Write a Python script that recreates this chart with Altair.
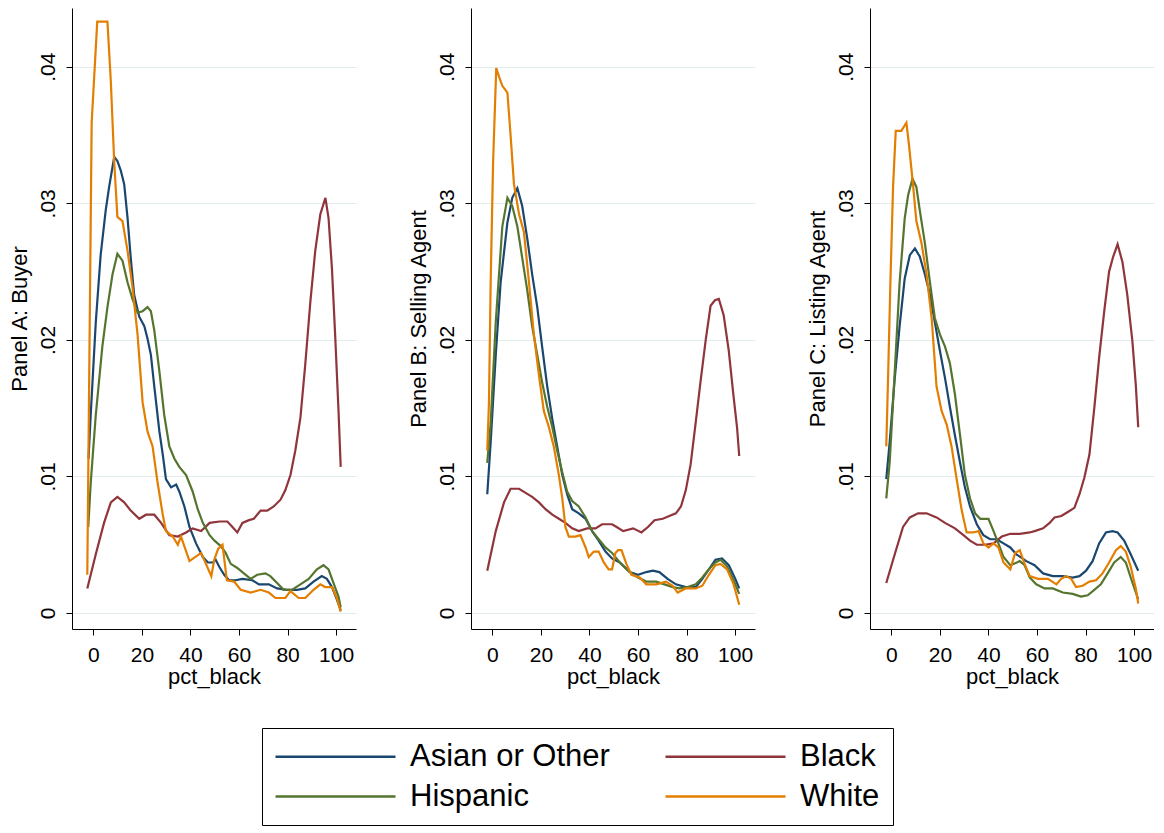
import altair as alt
import pandas as pd

GROUPS = ["Asian or Other", "Black", "Hispanic", "White"]
COLORS = ["#1a476f", "#90353b", "#55752f", "#e37e00"]
PANELS = ["A", "B", "C"]
PANEL_TITLES = ["Panel A: Buyer", "Panel B: Selling Agent", "Panel C: Listing Agent"]
X_TICKS = [0, 20, 40, 60, 80, 100]
Y_TICKS = [0, 0.01, 0.02, 0.03, 0.04]

# (pct_black, density)
A_ASIAN = [(-2.0,.0113),(-1.1,.0145),(1.0,.0213),(3.0,.0262),(5.1,.0295),(6.5,.0312),(8.6,.0334),(9.9,.0331),(11.3,.0324),(12.7,.0314),(14.1,.0289),(15.4,.0260),(16.8,.0233),(18.9,.0217),(21.0,.0210),(22.3,.0201),(23.7,.0189),(25.1,.0166),(27.2,.0133),(28.6,.0116),(29.9,.0098),(32.0,.0092),(34.1,.0094),(35.4,.0089),(37.5,.0078),(39.6,.0063),(42.3,.0051),(45.1,.0041),(47.2,.0037),(49.2,.0037),(50.4,.0039),(51.8,.0034),(53.9,.0028),(55.9,.0024),(58.6,.0024),(61.4,.0025),(65.5,.0024),(68.2,.0021),(72.3,.0021),(75.7,.0018),(79.8,.0017),(83.9,.0017),(87.3,.0018),(90.7,.0023),(94.1,.0027),(96.2,.0025),(98.3,.0019),(100.3,.0010),(101.9,.0002)]
A_BLACK = [(-2.5,.0018),(1.0,.0043),(4.4,.0066),(7.2,.0081),(9.9,.0085),(12.7,.0081),(15.4,.0075),(18.9,.0069),(21.7,.0072),(25.1,.0072),(27.9,.0066),(31.3,.0057),(34.8,.0056),(38.2,.0059),(40.9,.0062),(44.4,.0060),(47.9,.0066),(52.0,.0067),(55.2,.0067),(57.3,.0063),(59.3,.0059),(61.4,.0066),(64.1,.0068),(66.1,.0069),(68.9,.0075),(71.6,.0075),(74.3,.0078),(77.1,.0083),(79.1,.0090),(81.2,.0101),(83.2,.0119),(85.3,.0143),(87.3,.0182),(89.4,.0228),(91.4,.0265),(93.5,.0292),(95.6,.0304),(96.9,.0289),(98.3,.0252),(99.6,.0204),(101.0,.0148),(101.9,.0107)]
A_HISP = [(-2.1,.0063),(-1.1,.0095),(1.0,.0145),(3.7,.0195),(5.8,.0224),(7.9,.0248),(9.9,.0263),(12.0,.0258),(14.1,.0242),(16.1,.0230),(18.2,.0220),(20.3,.0221),(22.3,.0224),(23.7,.0221),(25.1,.0207),(27.2,.0177),(29.2,.0145),(31.3,.0122),(33.4,.0113),(35.4,.0107),(38.2,.0101),(40.9,.0089),(43.0,.0076),(45.1,.0066),(47.9,.0057),(49.9,.0053),(52.5,.0049),(54.5,.0044),(56.6,.0036),(59.3,.0033),(62.0,.0029),(64.8,.0025),(67.5,.0028),(70.9,.0029),(72.9,.0027),(75.7,.0022),(78.4,.0017),(81.8,.0017),(85.3,.0021),(88.7,.0025),(92.1,.0032),(94.8,.0035),(96.9,.0032),(98.9,.0022),(101.0,.0012),(101.9,.0004)]
A_WHITE = [(-2.5,.0028),(-1.5,.0212),(-0.7,.0359),(1.6,.0433),(5.8,.0433),(7.2,.0389),(8.6,.0330),(9.9,.0290),(12.0,.0287),(14.1,.0265),(16.1,.0239),(18.2,.0204),(20.3,.0154),(22.3,.0133),(24.4,.0122),(26.5,.0095),(28.6,.0072),(29.9,.0060),(32.7,.0056),(34.8,.0050),(36.1,.0056),(39.6,.0038),(44.4,.0044),(48.6,.0027),(49.8,.0039),(51.4,.0047),(53.2,.0050),(55.0,.0024),(58.0,.0023),(60.7,.0017),(64.8,.0015),(68.9,.0017),(72.3,.0015),(75.0,.0011),(79.1,.0011),(81.2,.0016),(84.6,.0011),(87.3,.0011),(90.7,.0017),(93.5,.0021),(95.5,.0019),(98.3,.0019),(100.3,.0011),(101.9,.0001)]

B_ASIAN = [(-2.1,.0087),(-0.7,.0125),(1.4,.0189),(3.4,.0242),(6.2,.0286),(8.2,.0304),(10.3,.0311),(12.3,.0298),(14.4,.0274),(16.4,.0248),(18.5,.0224),(20.5,.0195),(22.6,.0166),(24.7,.0142),(26.7,.0122),(28.8,.0101),(30.8,.0087),(32.9,.0076),(35.6,.0073),(38.4,.0069),(41.1,.0060),(43.8,.0053),(46.6,.0045),(49.3,.0040),(52.5,.0037),(56.6,.0030),(60.0,.0028),(63.4,.0030),(66.1,.0031),(68.8,.0030),(72.2,.0025),(75.6,.0021),(79.7,.0019),(83.8,.0019),(86.5,.0025),(89.2,.0032),(91.9,.0039),(94.6,.0040),(97.4,.0035),(100.1,.0025),(101.7,.0018)]
B_BLACK = [(-2.1,.0031),(1.4,.0060),(4.8,.0081),(7.5,.0091),(11.0,.0091),(13.7,.0088),(16.4,.0085),(19.2,.0081),(21.9,.0076),(24.7,.0072),(27.4,.0069),(30.1,.0066),(32.9,.0062),(35.6,.0060),(39.0,.0062),(42.5,.0062),(45.2,.0065),(49.3,.0065),(51.2,.0063),(53.9,.0060),(58.0,.0062),(61.4,.0059),(64.1,.0063),(66.8,.0068),(70.2,.0069),(72.9,.0071),(75.6,.0073),(77.7,.0078),(79.7,.0090),(81.7,.0109),(83.8,.0140),(85.8,.0170),(87.9,.0200),(89.9,.0225),(91.7,.0229),(93.3,.0230),(95.3,.0218),(97.4,.0192),(99.4,.0158),(100.8,.0136),(101.7,.0115)]
B_HISP = [(-2.1,.0110),(-0.7,.0139),(1.4,.0213),(4.1,.0283),(6.2,.0304),(8.2,.0298),(10.3,.0283),(12.3,.0260),(14.4,.0236),(16.4,.0210),(18.5,.0189),(20.5,.0169),(22.6,.0151),(24.7,.0136),(26.7,.0119),(28.8,.0103),(30.8,.0089),(32.9,.0082),(35.6,.0078),(38.4,.0070),(41.1,.0060),(43.8,.0054),(46.6,.0048),(49.3,.0044),(52.5,.0037),(56.6,.0030),(60.0,.0026),(63.4,.0023),(67.5,.0023),(70.9,.0021),(74.3,.0019),(77.0,.0018),(80.4,.0019),(83.8,.0021),(86.5,.0026),(89.2,.0032),(91.9,.0037),(94.0,.0039),(96.7,.0034),(99.4,.0024),(101.7,.0014)]
B_WHITE = [(-2.1,.0119),(-1.4,.0154),(-0.7,.0242),(0.3,.0330),(1.6,.0399),(2.7,.0393),(4.1,.0386),(6.2,.0381),(7.5,.0350),(8.9,.0314),(11.0,.0292),(13.0,.0279),(15.1,.0242),(17.1,.0204),(19.2,.0174),(21.2,.0148),(23.3,.0136),(25.3,.0122),(27.4,.0101),(28.8,.0084),(30.1,.0063),(31.5,.0056),(34.2,.0056),(36.3,.0057),(38.4,.0048),(39.7,.0041),(41.8,.0045),(43.8,.0045),(45.9,.0037),(47.9,.0032),(49.3,.0032),(50.7,.0044),(51.8,.0046),(53.2,.0046),(55.2,.0036),(57.3,.0028),(60.7,.0026),(63.4,.0021),(67.5,.0021),(71.5,.0023),(74.3,.0020),(76.3,.0015),(79.7,.0018),(83.8,.0018),(86.5,.0020),(89.2,.0028),(91.9,.0035),(94.0,.0036),(96.7,.0032),(99.4,.0021),(101.7,.0006)]

C_ASIAN = [(-2.1,.0098),(-0.7,.0125),(1.4,.0172),(3.4,.0210),(5.5,.0245),(7.6,.0262),(9.7,.0267),(11.7,.0261),(13.8,.0248),(15.9,.0233),(17.9,.0213),(20.0,.0192),(22.1,.0172),(24.1,.0151),(26.2,.0130),(28.3,.0110),(30.3,.0092),(32.4,.0078),(35.2,.0065),(37.9,.0057),(40.7,.0054),(43.4,.0054),(46.2,.0051),(49.0,.0048),(51.5,.0043),(55.6,.0038),(59.0,.0035),(62.5,.0029),(66.5,.0027),(70.6,.0027),(74.7,.0026),(77.5,.0027),(80.2,.0031),(82.9,.0038),(85.6,.0051),(88.4,.0059),(91.1,.0060),(93.2,.0059),(95.9,.0053),(98.6,.0043),(101.7,.0031)]
C_BLACK = [(-2.1,.0022),(1.4,.0043),(4.8,.0063),(7.6,.0070),(11.0,.0073),(14.5,.0073),(18.6,.0070),(22.1,.0066),(26.2,.0062),(29.7,.0057),(32.4,.0053),(35.2,.0050),(38.6,.0050),(42.1,.0051),(45.5,.0056),(49.0,.0058),(52.9,.0058),(57.0,.0059),(59.0,.0060),(62.5,.0062),(65.2,.0066),(67.2,.0070),(70.0,.0071),(72.7,.0074),(75.4,.0077),(77.5,.0087),(79.5,.0099),(81.6,.0116),(83.6,.0150),(85.6,.0187),(87.7,.0221),(89.7,.0250),(91.4,.0261),(93.2,.0270),(95.2,.0257),(97.2,.0233),(99.3,.0199),(100.7,.0167),(101.7,.0136)]
C_HISP = [(-2.1,.0084),(-0.7,.0110),(1.4,.0177),(3.4,.0242),(5.5,.0289),(6.9,.0306),(8.7,.0318),(10.3,.0312),(11.7,.0295),(13.8,.0271),(15.9,.0242),(17.9,.0216),(20.0,.0204),(22.1,.0195),(24.1,.0183),(26.2,.0160),(28.3,.0130),(30.3,.0101),(32.4,.0084),(34.5,.0073),(36.6,.0069),(40.0,.0069),(42.1,.0060),(44.1,.0051),(46.2,.0041),(49.0,.0035),(51.7,.0037),(52.9,.0038),(54.9,.0035),(57.0,.0026),(59.7,.0021),(63.1,.0018),(66.5,.0018),(70.6,.0015),(74.7,.0014),(78.1,.0012),(80.9,.0013),(83.6,.0017),(86.3,.0021),(89.1,.0029),(91.8,.0037),(94.5,.0041),(96.6,.0037),(98.6,.0026),(101.7,.0010)]
C_WHITE = [(-2.1,.0122),(-1.4,.0169),(-0.4,.0242),(0.7,.0312),(1.8,.0353),(4.1,.0353),(6.2,.0359),(7.3,.0342),(9.0,.0312),(10.3,.0287),(12.4,.0271),(14.5,.0248),(16.6,.0216),(18.6,.0166),(20.7,.0148),(22.8,.0138),(24.8,.0122),(26.9,.0098),(29.0,.0075),(31.0,.0059),(33.8,.0059),(35.9,.0060),(37.9,.0051),(40.0,.0048),(42.1,.0051),(44.1,.0048),(46.2,.0037),(49.0,.0032),(51.0,.0044),(52.9,.0046),(54.9,.0036),(57.0,.0027),(60.4,.0025),(64.5,.0025),(68.0,.0021),(70.0,.0025),(72.0,.0027),(74.1,.0025),(76.1,.0019),(78.8,.0020),(81.6,.0023),(84.3,.0024),(87.0,.0029),(89.7,.0037),(92.5,.0046),(94.5,.0049),(96.6,.0045),(98.6,.0034),(100.7,.0018),(101.7,.0007)]

SERIES = {
    "A": [A_ASIAN, A_BLACK, A_HISP, A_WHITE],
    "B": [B_ASIAN, B_BLACK, B_HISP, B_WHITE],
    "C": [C_ASIAN, C_BLACK, C_HISP, C_WHITE],
}

FONT = "Liberation Sans"

legend = alt.Legend(
    title=None, orient="none", legendX=190, legendY=720, columns=2,
    direction="horizontal",
    symbolType="M-6,0H6", symbolSize=400, symbolStrokeWidth=2.5,
    symbolOffset=45, labelOffset=59, columnPadding=50, rowPadding=8,
    padding=13, strokeColor="black", labelFontSize=31, labelFont=FONT,
    labelColor="black", labelLimit=600,
)


def panel(key, title):
    rows = []
    for grp, pts in zip(GROUPS, SERIES[key]):
        for x, y in pts:
            rows.append({"pct_black": x, "density": y, "group": grp})
    df = pd.DataFrame(rows)
    return alt.Chart(df).mark_line(strokeWidth=2.2).encode(
        x=alt.X("pct_black:Q",
                scale=alt.Scale(domain=[-8.8, 108.2], nice=False, zero=False),
                axis=alt.Axis(values=X_TICKS, title="pct_black", grid=False,
                              labelPadding=9, titlePadding=1)),
        y=alt.Y("density:Q",
                scale=alt.Scale(domain=[-0.00117, 0.0443], nice=False, zero=False),
                axis=alt.Axis(values=Y_TICKS, title=title, grid=True,
                              labelAngle=270, labelAlign="center", labelBaseline="bottom",
                              labelPadding=8, titlePadding=6,
                              labelExpr="replace(format(datum.value, '.2~f'), '0.', '.')")),
        color=alt.Color("group:N", scale=alt.Scale(domain=GROUPS, range=COLORS), legend=legend),
    ).properties(width=284, height=621)


chart = alt.hconcat(
    *[panel(k, t) for k, t in zip(PANELS, PANEL_TITLES)],
    spacing=115, bounds="flush",
).properties(
    padding={"left": 0, "top": 0, "right": 0, "bottom": 0},
    background="white",
).configure_view(stroke=None).configure_axis(
    domainColor="black", domainWidth=1, tickColor="black", tickSize=6, tickWidth=1,
    labelColor="black", titleColor="black", labelFont=FONT, titleFont=FONT,
    labelFontSize=21, titleFontSize=22, titleFontWeight="normal",
    gridColor="#e2ecef", gridWidth=1.2,
)

chart.save("out.html", embed_options={"renderer": "svg", "actions": False})
